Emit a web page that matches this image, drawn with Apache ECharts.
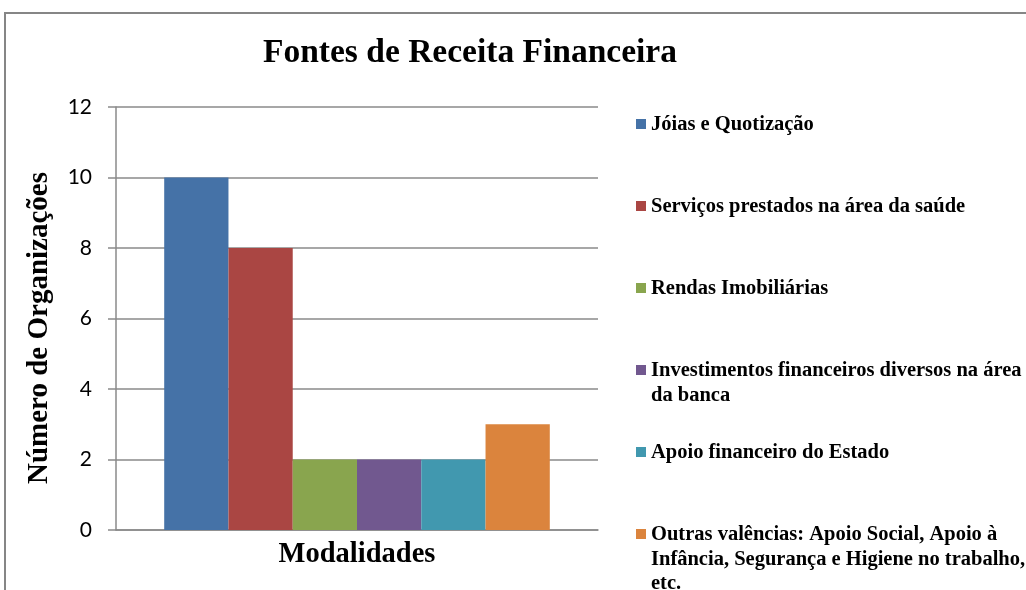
<!DOCTYPE html>
<html>
<head>
<meta charset="utf-8">
<script src="https://cdn.jsdelivr.net/npm/echarts@6/dist/echarts.min.js"></script>
<style>
  html, body { margin: 0; padding: 0; background: #fff; }
  #main { width: 1026px; height: 590px; }
</style>
</head>
<body>
<div id="main"></div>
<script>
const categories = ['Modalidades']
const legendTexts = [
  'Jóias e Quotização',
  'Serviços prestados na área da saúde',
  'Rendas Imobiliárias',
  'Investimentos financeiros diversos na área\nda banca',
  'Apoio financeiro do Estado',
  'Outras valências: Apoio Social, Apoio à\nInfância, Segurança e Higiene no trabalho,\netc.'
]
const seriesNames = legendTexts.map(t => t.replace(/\n/g, ' '))
const seriesValues = [10, 8, 2, 2, 2, 3]
const colors = ['#4572A7', '#AA4643', '#89A54E', '#71588F', '#4198AF', '#DB843D']
const yMin = 0
const yMax = 12
const yStep = 2

const serif = '"Liberation Serif", "Times New Roman", serif'
const LH = 24.5

// square icon sitting on the first text line, with tiny invisible markers
// so the icon box spans the full height of the (multi-line) label
const legendIcon = (lines) => {
  const h = lines * LH
  const y = LH / 2 - 6
  return 'path://M0,0h0.01v0.01h-0.01z' +
    'M0,' + y + 'h10v10h-10z' +
    'M0,' + (h - 0.01) + 'h0.01v0.01h-0.01z'
}

const chart = echarts.init(document.getElementById('main'))

const option = {
  animation: false,
  backgroundColor: '#fff',
  title: {
    text: 'Fontes de Receita Financeira',
    left: 263,
    top: 36,
    padding: 0,
    textStyle: { fontFamily: serif, fontWeight: 'bold', fontSize: 33.5, color: '#000' }
  },
  graphic: [
    {
      type: 'rect',
      shape: { x: 5, y: 13, width: 1100, height: 700 },
      style: { fill: 'none', stroke: '#868686', lineWidth: 2 },
      silent: true
    }
  ],
  legend: seriesNames.map((name, i) => {
    const lines = legendTexts[i].split('\n').length
    return {
      data: [name],
      left: 636,
      top: 125 + i * 82 - LH / 2,
      padding: 0,
      itemWidth: 10,
      itemHeight: lines * LH,
      icon: legendIcon(lines),
      selectedMode: false,
      formatter: () => legendTexts[i],
      textStyle: {
        fontFamily: serif,
        fontWeight: 'bold',
        fontSize: 20.5,
        lineHeight: LH,
        color: '#000'
      }
    }
  }),
  grid: { left: 116, right: 428, top: 107, bottom: 60 },
  xAxis: {
    type: 'category',
    data: categories,
    axisLine: { lineStyle: { color: '#8a8a8a', width: 1.5 } },
    axisTick: { show: false },
    axisLabel: {
      margin: 10,
      fontFamily: serif,
      fontWeight: 'bold',
      fontSize: 28.5,
      color: '#000'
    }
  },
  yAxis: {
    type: 'value',
    min: yMin,
    max: yMax,
    interval: yStep,
    name: 'Número de Organizações',
    nameLocation: 'middle',
    nameRotate: 90,
    nameGap: 62,
    nameTextStyle: {
      fontFamily: serif,
      fontWeight: 'bold',
      fontSize: 29,
      color: '#000',
      padding: [0, 19, 0, 0]
    },
    axisLine: { show: true, lineStyle: { color: '#8a8a8a', width: 1.5 } },
    axisTick: { show: true, length: 8, lineStyle: { color: '#8a8a8a', width: 1.5 } },
    axisLabel: { margin: 24, fontFamily: 'Lato, "Open Sans", sans-serif', fontSize: 21, color: '#000' },
    splitLine: { lineStyle: { color: '#8a8a8a', width: 1.5 } }
  },
  series: seriesNames.map((name, i) => ({
    name: name,
    type: 'bar',
    data: [seriesValues[i]],
    barGap: '0%',
    barCategoryGap: '20%',
    itemStyle: { color: colors[i] }
  }))
}

chart.setOption(option)
</script>
</body>
</html>
